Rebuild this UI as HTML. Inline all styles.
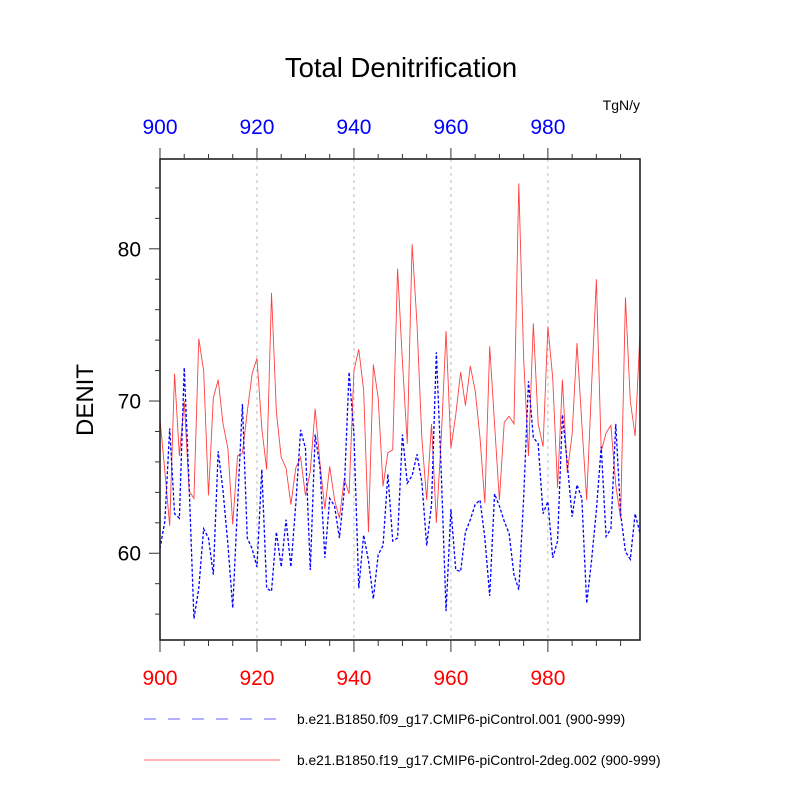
<!DOCTYPE html>
<html><head><meta charset="utf-8"><style>
body{margin:0;background:#fff}
svg{display:block;font-family:"Liberation Sans",Arial,sans-serif}
</style></head><body>
<svg width="800" height="800" viewBox="0 0 800 800">
<g id="g"></g>
</svg>
<script>
const years = Array.from({length:100},(_,i)=>900+i);
const seriesRed = [68.8,65.4,61.8,71.8,66.4,70.0,64.1,63.6,74.1,72.0,63.8,70.2,71.4,68.5,66.9,61.9,66.4,66.6,69.3,71.8,72.8,68.2,65.5,77.1,69.3,66.3,65.6,63.2,65.6,66.3,63.8,65.4,69.5,65.9,62.9,65.7,63.5,62.3,64.9,63.9,72.0,73.4,70.7,61.4,72.4,70.2,64.4,66.6,66.8,78.7,72.6,67.2,80.3,75.1,67.6,63.5,68.5,62.0,67.5,74.6,66.9,69.1,71.9,69.7,72.3,70.7,67.6,63.3,73.6,68.5,63.5,68.6,69.0,68.5,84.3,72.8,66.4,75.1,68.5,67.0,74.9,71.5,64.3,71.4,65.3,67.8,73.8,68.5,63.5,70.9,78.0,66.7,67.9,68.4,64.5,62.3,76.8,70.0,67.7,74.5];
const seriesBlue = [60.3,62.1,68.2,62.6,62.3,72.2,64.5,55.7,57.7,61.6,61.0,58.6,66.7,64.1,60.6,56.4,63.2,69.8,61.0,60.3,59.1,65.5,57.7,57.5,61.4,59.1,62.2,59.1,63.2,68.1,66.9,58.9,67.8,65.6,59.7,63.6,63.1,61.0,64.1,71.9,67.8,57.7,61.2,59.5,57.0,59.9,60.5,65.2,60.8,61.0,67.8,64.6,65.1,66.5,64.7,60.5,63.2,73.2,65.4,56.2,62.9,58.9,58.8,61.4,62.2,63.2,63.5,61.0,57.2,63.9,63.1,62.1,61.3,58.6,57.6,63.6,71.3,67.6,67.2,62.6,63.4,59.7,60.8,69.1,65.9,62.4,64.5,63.6,56.7,59.5,62.8,67.0,61.1,61.6,68.5,62.6,60.1,59.6,62.6,61.3];
const xTicks = [900,920,940,960,980];
const yTicks = [60,70,80];

const L=160,R=640,T=159,B=640;
const X0=900,X1=999,Y0=54.3,Y1=85.9;
const sx=v=>L+(v-X0)/(X1-X0)*(R-L);
const sy=v=>B-(v-Y0)/(Y1-Y0)*(B-T);
const g=document.getElementById('g');
const NS='http://www.w3.org/2000/svg';
function mk(tag,attrs,parent){const e=document.createElementNS(NS,tag);for(const k in attrs)e.setAttribute(k,attrs[k]);(parent||g).appendChild(e);return e;}

let t=mk('text',{x:401,y:77,'font-size':27.5,'text-anchor':'middle',fill:'#000'});t.textContent='Total Denitrification';


t=mk('text',{x:640,y:110,'font-size':14,'text-anchor':'end',fill:'#000'});t.textContent='TgN/y';


t=mk('text',{x:0,y:0,'font-size':24,'text-anchor':'middle',fill:'#000',transform:'translate(93,400) rotate(-90)'});t.textContent='DENIT';



xTicks.forEach(v=>{if(v===900)return;const l=mk('line',{x1:sx(v),x2:sx(v),y1:T,y2:B,stroke:'#bbb','stroke-width':1,'stroke-dasharray':'3,4'});

});

function line(data,color,dash,name,w){
 const d=data.map((v,i)=>(i?'L':'M')+sx(years[i]).toFixed(2)+','+sy(v).toFixed(2)).join('');
 const p=mk('path',{d:d,fill:'none',stroke:color,'stroke-width':w});
 if(dash)p.setAttribute('stroke-dasharray',dash);
 
 
}
line(seriesRed,'#ff4040',null,'series-2deg-line',0.9);
line(seriesBlue,'#0000ff','3,2','series-001-line',1.3);

const box=mk('rect',{x:L,y:T,width:R-L,height:B-T,fill:'none',stroke:'#222','stroke-width':1.6});



for(let v=900;v<=995;v+=5){
 const maj=v%20===0;
 mk('line',{x1:sx(v),x2:sx(v),y1:T,y2:T-(maj?11:5),stroke:'#333','stroke-width':1});
 mk('line',{x1:sx(v),x2:sx(v),y1:B,y2:B+(maj?12:6),stroke:'#333','stroke-width':1});
}
xTicks.forEach(v=>{
 let a=mk('text',{x:sx(v),y:134,'font-size':21,'text-anchor':'middle',fill:'#0000ff'});a.textContent=v;
 
 
 let b=mk('text',{x:sx(v),y:685,'font-size':21,'text-anchor':'middle',fill:'#ff0000'});b.textContent=v;
 
 
});
for(let v=56;v<=84;v+=2){
 const maj=v%10===0;const len=maj?11:5;
 mk('line',{x1:L,x2:L-len,y1:sy(v),y2:sy(v),stroke:'#333','stroke-width':1});
}
yTicks.forEach(v=>{let a=mk('text',{x:141,y:sy(v)+7.5,'font-size':21,'text-anchor':'end',fill:'#000'});a.textContent=v;
 
 });

let l1=mk('line',{x1:144,x2:276,y1:719,y2:719,stroke:'#6060ff','stroke-width':1,'stroke-dasharray':'12,12'});


t=mk('text',{x:297,y:724,'font-size':13.8,fill:'#000'});t.textContent='b.e21.B1850.f09_g17.CMIP6-piControl.001 (900-999)';


let l2=mk('line',{x1:144,x2:280,y1:760,y2:760,stroke:'#ff6060','stroke-width':1});


t=mk('text',{x:297,y:765,'font-size':13.8,fill:'#000'});t.textContent='b.e21.B1850.f19_g17.CMIP6-piControl-2deg.002 (900-999)';


</script>
</body></html>
